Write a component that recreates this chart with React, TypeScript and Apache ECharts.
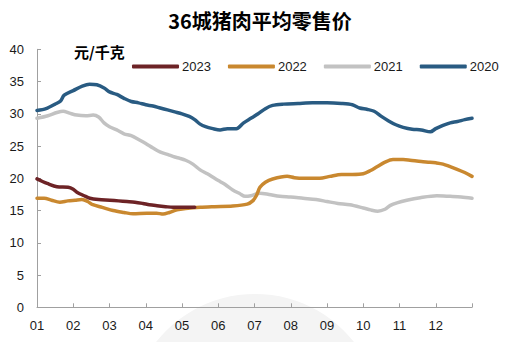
import React, { useEffect, useRef } from "react";
import * as echarts from "echarts";

const monthLabels = ["01", "02", "03", "04", "05", "06", "07", "08", "09", "10", "11", "12"];
const yTicks = [0, 5, 10, 15, 20, 25, 30, 35, 40];

const names = ["2023", "2022", "2021", "2020"];
const colors = ["#6d2326", "#c9882f", "#c2c2c2", "#295b82"];

const s2023: [number, number][] = [
  [0, 19.9], [0.15, 19.5], [0.28, 19.2], [0.55, 18.7], [0.86, 18.6], [1.0, 18.3], [1.1, 17.85],
  [1.3, 17.3], [1.46, 16.9], [1.7, 16.7], [2.01, 16.6], [2.25, 16.5], [2.48, 16.4], [2.7, 16.3],
  [2.92, 16.1], [3.1, 15.9], [3.31, 15.75], [3.55, 15.6], [3.75, 15.5], [3.95, 15.5], [4.14, 15.5],
  [4.35, 15.5],
];

const s2022: [number, number][] = [
  [0, 16.9], [0.2, 16.9], [0.4, 16.6], [0.63, 16.3], [0.85, 16.5], [1.05, 16.6], [1.24, 16.7],
  [1.4, 16.4], [1.54, 15.9], [1.8, 15.5], [2.1, 15.0], [2.4, 14.7], [2.65, 14.5], [3.03, 14.6],
  [3.3, 14.6], [3.48, 14.45], [3.65, 14.7], [3.86, 15.1], [4.1, 15.3], [4.5, 15.5], [4.9, 15.6],
  [5.4, 15.7], [5.8, 16.0], [5.95, 16.5], [6.05, 17.3], [6.15, 18.6], [6.3, 19.4], [6.5, 19.9],
  [6.9, 20.3], [7.1, 20.1], [7.34, 20.0], [7.8, 20.0], [8.08, 20.3], [8.4, 20.6], [8.7, 20.6],
  [9.0, 20.7], [9.2, 21.2], [9.38, 21.8], [9.6, 22.5], [9.82, 22.9], [10.1, 22.9], [10.29, 22.8],
  [10.6, 22.6], [10.84, 22.5], [11.0, 22.4], [11.2, 22.2], [11.4, 21.8], [11.59, 21.4],
  [11.8, 20.9], [12.0, 20.3],
];

const s2021: [number, number][] = [
  [0, 29.3], [0.3, 29.7], [0.55, 30.2], [0.72, 30.4], [0.9, 30.1], [1.1, 29.8], [1.35, 29.7],
  [1.55, 29.8], [1.7, 29.5], [1.85, 28.6], [2.0, 28.0], [2.2, 27.5], [2.4, 26.9], [2.6, 26.6],
  [2.84, 25.9], [3.0, 25.4], [3.2, 24.7], [3.39, 24.1], [3.6, 23.7], [3.8, 23.3], [3.94, 23.1],
  [4.1, 22.8], [4.3, 22.2], [4.5, 21.3], [4.7, 20.7], [4.9, 20.0], [5.05, 19.5], [5.2, 19.0],
  [5.4, 18.2], [5.6, 17.6], [5.74, 17.2], [5.9, 17.3], [6.15, 17.7], [6.4, 17.5], [6.7, 17.2],
  [7.0, 17.1], [7.34, 16.9], [7.7, 16.7], [8.0, 16.4], [8.3, 16.1], [8.63, 15.9], [9.0, 15.4],
  [9.2, 15.1], [9.4, 14.9], [9.6, 15.2], [9.75, 15.8], [9.93, 16.2], [10.2, 16.6], [10.57, 17.0],
  [11.03, 17.3], [11.4, 17.2], [11.7, 17.1], [12.0, 16.9],
];

const s2020: [number, number][] = [
  [0, 30.5], [0.25, 30.8], [0.5, 31.5], [0.65, 32.0], [0.75, 32.9], [1.0, 33.6], [1.25, 34.3],
  [1.45, 34.6], [1.65, 34.5], [1.85, 34.0], [2.0, 33.4], [2.2, 33.0], [2.4, 32.4], [2.6, 31.9],
  [2.8, 31.7], [3.0, 31.4], [3.2, 31.2], [3.4, 30.9], [3.6, 30.6], [3.8, 30.3], [4.0, 30.0],
  [4.2, 29.6], [4.35, 29.1], [4.5, 28.4], [4.65, 28.0], [4.85, 27.7], [5.05, 27.5], [5.25, 27.7],
  [5.5, 27.7], [5.7, 28.6], [5.9, 29.3], [6.1, 30.0], [6.3, 30.8], [6.5, 31.3], [6.8, 31.5],
  [7.2, 31.6], [7.6, 31.7], [8.0, 31.7], [8.4, 31.6], [8.7, 31.4], [8.9, 30.9], [9.1, 30.7],
  [9.3, 30.4], [9.5, 29.6], [9.7, 28.9], [9.9, 28.3], [10.1, 27.9], [10.35, 27.6], [10.6, 27.5],
  [10.85, 27.2], [11.0, 27.7], [11.2, 28.2], [11.4, 28.6], [11.6, 28.8], [11.8, 29.1], [12.0, 29.3],
];

const seriesData = [s2023, s2022, s2021, s2020];

export default function App() {
  const ref = useRef<HTMLDivElement>(null);
  useEffect(() => {
    if (!ref.current) return;
    const chart = echarts.init(ref.current, null, { renderer: "svg" });
    const axisColor = "#a0a0a0";
    chart.setOption({
      animation: false,
      backgroundColor: "#ffffff",
      title: {
        text: "36城猪肉平均零售价",
        left: 255,
        textAlign: "center",
        top: 5,
        textStyle: {
          fontFamily: "Noto Sans CJK SC",
          fontSize: 20,
          fontWeight: "bold",
          color: "#000000",
        },
      },
      graphic: [
        {
          type: "circle",
          shape: { cx: 255, cy: 420, r: 126 },
          style: { fill: "#f4f4f4" },
          z: -10,
          silent: true,
        },
        {
          type: "text",
          left: 74,
          top: 44,
          style: {
            text: "元/千克",
            fontFamily: "Noto Sans CJK SC",
            fontSize: 15,
            fontWeight: "bold",
            fill: "#000000",
          },
        },
      ],
      legend: {
        left: 127,
        top: 55,
        itemWidth: 47,
        itemHeight: 4,
        itemGap: 17,
        icon: "roundRect",
        data: names,
        textStyle: {
          fontFamily: "Liberation Sans",
          fontSize: 13,
          color: "#1a1a1a",
          padding: [0, 0, 0, -2],
        },
      },
      grid: { left: 37, right: 41, top: 49.3, bottom: 34.7, containLabel: false },
      xAxis: {
        type: "value",
        min: 0,
        max: 12,
        interval: 1,
        axisLine: { show: true, lineStyle: { color: axisColor, width: 1 } },
        axisTick: { show: true, inside: true, length: 4, lineStyle: { color: axisColor } },
        splitLine: { show: false },
        axisLabel: {
          margin: 12,
          fontFamily: "Liberation Sans",
          fontSize: 13,
          color: "#1a1a1a",
          formatter: (v: number) => (v < 12 ? monthLabels[v] : ""),
        },
      },
      yAxis: {
        type: "value",
        min: yTicks[0],
        max: yTicks[yTicks.length - 1],
        interval: 5,
        axisLine: { show: true, lineStyle: { color: axisColor, width: 1 } },
        axisTick: { show: true, inside: true, length: 4, lineStyle: { color: axisColor } },
        splitLine: { show: false },
        axisLabel: {
          margin: 13,
          fontFamily: "Liberation Sans",
          fontSize: 13,
          color: "#1a1a1a",
        },
      },
      series: names.map((n, i) => ({
        name: n,
        type: "line",
        data: seriesData[i],
        showSymbol: false,
        symbol: "none",
        smooth: 0.3,
        z: 10 - i,
        lineStyle: { color: colors[i], width: 3.5, cap: "round", join: "round" },
        itemStyle: { color: colors[i] },
      })),
    });
    return () => chart.dispose();
  }, []);
  return (
    <div
      ref={ref}
      style={{ position: "fixed", left: 0, top: 0, width: 513, height: 342 }}
    />
  );
}
